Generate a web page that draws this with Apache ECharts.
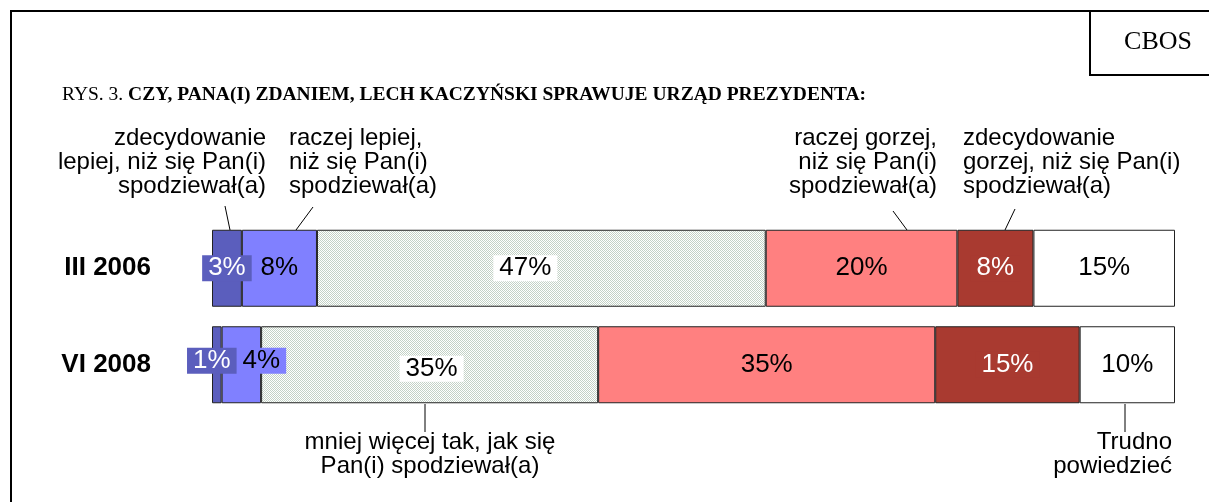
<!DOCTYPE html>
<html>
<head>
<meta charset="utf-8">
<script src="https://cdn.jsdelivr.net/npm/echarts@6/dist/echarts.min.js"></script>
<style>
  html, body { margin: 0; padding: 0; background: #fff; }
  #chart { width: 1209px; height: 502px; }
</style>
</head>
<body>
<div id="chart"></div>
<script>
// categories (top to bottom)
const categories = ['III 2006', 'VI 2008'];
const seriesNames = [
    'zdecydowanie lepiej',
    'raczej lepiej',
    'mniej więcej tak',
    'raczej gorzej',
    'zdecydowanie gorzej',
    'Trudno powiedzieć',
];
// shares (labels show them rounded)
const muchBetter = [3.1, 1.0];
const ratherBetter = [7.8, 4.1];
const asExpected = [46.6, 35.0];
const ratherWorse = [19.9, 35.0];
const muchWorse = [7.9, 15.0];
const hardToSay = [14.7, 9.9];

const seriesValues = [muchBetter, ratherBetter, asExpected, ratherWorse, muchWorse, hardToSay];

// fine dotted fill of the middle segment
function dotPattern() {
    const c = document.createElement('canvas');
    c.width = 2;
    c.height = 2;
    const ctx = c.getContext('2d');
    ctx.fillStyle = '#ffffff';
    ctx.fillRect(0, 0, 2, 2);
    ctx.fillStyle = '#c3d2c6';
    ctx.fillRect(0, 0, 1, 1);
    ctx.fillRect(1, 1, 1, 1);
    return c;
}

const fills = ['#5b5ebd', '#8080ff', {image: dotPattern(), repeat: 'repeat'}, '#ff8080', '#a93a30', '#ffffff'];
const labelBg = ['#5b5ebd', '#8080ff', '#ffffff', '#ff8080', '#a93a30', '#ffffff'];
const labelColor = ['#fff', '#000', '#000', '#000', '#fff', '#000'];
// Excel nudged some labels away from the segment centre
const labelOffsets = [
    [[0, 0], [-5, -4]],
    [[0, 0], [20, -4]],
    [[-16, 0], [2, 4]],
    [[0, 0], [0, 0]],
    [[0, 0], [0, 0]],
    [[0, 0], [0, 0]],
];

const sans = '"Liberation Sans", Arial, sans-serif';
const serif = '"Liberation Serif", "Times New Roman", serif';

const series = seriesValues.map((vals, i) => ({
    name: seriesNames[i],
    type: 'bar',
    stack: 'total',
    barWidth: 77,
    itemStyle: {
        color: fills[i],
        borderColor: '#222',
        borderWidth: 1,
    },
    label: {
        show: true,
        position: 'inside',
        fontFamily: sans,
        fontSize: 26,
        lineHeight: 24,
        color: labelColor[i],
        backgroundColor: labelBg[i],
        padding: [1, 6, 1, 6],
        formatter: (p) => Math.round(p.value) + '%',
    },
    data: vals.map((v, j) => ({
        value: v,
        label: {offset: labelOffsets[i][j]},
    })),
    z: i === 0 ? 4 : 2,
}));

function note(x, y, lines, align) {
    return {
        type: 'text',
        x: x,
        y: y,
        style: {
            text: lines.join('\n'),
            font: '24px ' + sans,
            lineHeight: 24,
            fill: '#000',
            align: align,
            verticalAlign: 'top',
        },
    };
}

function leader(x1, y1, x2, y2) {
    return {
        type: 'line',
        shape: {x1: x1, y1: y1, x2: x2, y2: y2},
        style: {stroke: '#000', lineWidth: 1},
        z: 10,
    };
}

const chart = echarts.init(document.getElementById('chart'));
chart.setOption({
    animation: false,
    backgroundColor: '#fff',
    title: {
        left: 57,
        top: 80,
        text: '{a|RYS. 3. }{b|CZY, PANA(I) ZDANIEM, LECH KACZYŃSKI SPRAWUJE URZĄD PREZYDENTA:}',
        textStyle: {
            rich: {
                a: {fontFamily: serif, fontSize: 19.5, fontWeight: 'normal', color: '#000'},
                b: {fontFamily: serif, fontSize: 19.5, fontWeight: 'bold', color: '#000'},
            },
        },
    },
    grid: {
        left: 212,
        right: 34,
        top: 220,
        bottom: 89,
    },
    xAxis: {
        type: 'value',
        min: 0,
        max: 100,
        show: false,
    },
    yAxis: {
        type: 'category',
        inverse: true,
        data: categories,
        axisLine: {show: false},
        axisTick: {show: false},
        axisLabel: {
            margin: 61,
            fontFamily: sans,
            fontSize: 26,
            fontWeight: 'bold',
            color: '#000',
        },
    },
    series: series,
    graphic: [
        // outer frame and the CBOS box
        {
            type: 'rect',
            shape: {x: 11, y: 11, width: 1400, height: 700},
            style: {fill: 'none', stroke: '#000', lineWidth: 2},
            silent: true,
        },
        {
            type: 'polyline',
            shape: {points: [[1090, 11], [1090, 75], [1215, 75]]},
            style: {fill: 'none', stroke: '#000', lineWidth: 2},
        },
        {
            type: 'text',
            x: 1158,
            y: 42,
            style: {
                text: 'CBOS',
                font: '26px ' + serif,
                fill: '#000',
                align: 'center',
                verticalAlign: 'middle',
            },
        },
        note(266, 126, ['zdecydowanie', 'lepiej, niż się Pan(i)', 'spodziewał(a)'], 'right'),
        note(289, 126, ['raczej lepiej,', 'niż się Pan(i)', 'spodziewał(a)'], 'left'),
        note(937, 126, ['raczej gorzej,', 'niż się Pan(i)', 'spodziewał(a)'], 'right'),
        note(963, 126, ['zdecydowanie', 'gorzej, niż się Pan(i)', 'spodziewał(a)'], 'left'),
        {
            type: 'text',
            x: 430,
            y: 430,
            style: {
                text: 'mniej więcej tak, jak się\nPan(i) spodziewał(a)',
                font: '24px ' + sans,
                lineHeight: 24,
                fill: '#000',
                align: 'center',
                verticalAlign: 'top',
            },
        },
        note(1172, 430, ['Trudno', 'powiedzieć'], 'right'),
        leader(225, 206, 230, 230),
        leader(313, 207, 296, 230),
        leader(893, 211, 907, 230),
        leader(1015, 209, 1005, 230),
        leader(425, 404, 425, 432),
        leader(1125, 404, 1125, 432),
    ],
});
</script>
</body>
</html>
